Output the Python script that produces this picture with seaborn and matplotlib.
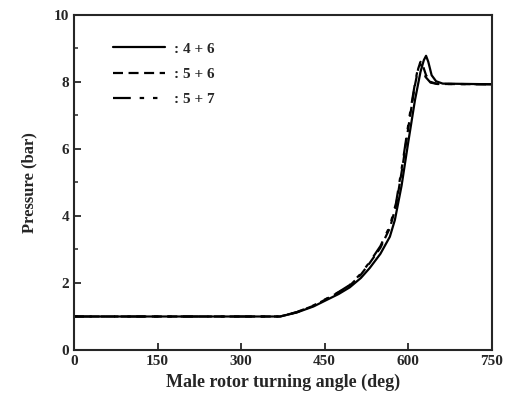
import numpy as np
import pandas as pd
import matplotlib
matplotlib.use('Agg')
import matplotlib.pyplot as plt
from matplotlib.ticker import MultipleLocator
import seaborn as sns

# Pressure curves (angle in deg, pressure in bar)
angle_46 = [0, 370, 400, 430, 453, 475, 495, 515, 531, 550, 567, 576, 588,
            600, 612, 622, 628, 632, 636, 642, 650, 662, 750]
press_46 = [1.0, 1.0, 1.12, 1.3, 1.49, 1.67, 1.87, 2.15, 2.45, 2.87, 3.38, 3.88, 4.9,
            6.2, 7.45, 8.3, 8.65, 8.78, 8.6, 8.2, 8.02, 7.95, 7.93]

angle_56 = [0, 370, 400, 430, 453, 475, 495, 515, 531, 550, 567, 578, 590,
            603, 612, 618, 622, 626, 632, 640, 652, 750]
press_56 = [1.0, 1.0, 1.13, 1.32, 1.52, 1.72, 1.92, 2.25, 2.6, 3.05, 3.64, 4.3, 5.5,
            6.95, 7.9, 8.4, 8.6, 8.5, 8.2, 8.0, 7.94, 7.93]

angle_57 = [0, 370, 400, 430, 453, 475, 495, 515, 531, 550, 567, 578, 590,
            603, 612, 617, 621, 625, 631, 640, 652, 750]
press_57 = [1.0, 1.0, 1.13, 1.33, 1.53, 1.73, 1.94, 2.28, 2.63, 3.1, 3.7, 4.38, 5.6,
            7.05, 7.95, 8.38, 8.55, 8.45, 8.15, 7.98, 7.94, 7.93]

labels = [': 4 + 6', ': 5 + 6', ': 5 + 7']
x_ticks = [0, 150, 300, 450, 600, 750]
y_ticks = [0, 2, 4, 6, 8, 10]

sns.set_style('ticks')
plt.rcParams['font.family'] = ['Liberation Serif', 'DejaVu Serif']
plt.rcParams['font.weight'] = 'bold'

fig = plt.figure(figsize=(5.07, 4.03), dpi=100)
ax = fig.add_axes([0.146, 0.1315, 0.824, 0.8315])

series = [(angle_46, press_46), (angle_56, press_56), (angle_57, press_57)]
dash_patterns = [None, (4.5, 2.5), (8, 4, 2, 4, 2, 4)]
for (xs, ys), lab, dp in zip(series, labels, dash_patterns):
    df = pd.DataFrame({'angle': xs, 'pressure': ys})
    sns.lineplot(data=df, x='angle', y='pressure', ax=ax, color='black',
                 linewidth=1.6, label=lab)
    if dp is not None:
        ax.lines[-1].set_dashes(dp)

ax.set_xlim(0, 750)
ax.set_ylim(0, 10)
ax.set_xticks(x_ticks)
ax.set_yticks(y_ticks)
ax.yaxis.set_minor_locator(MultipleLocator(1))
ax.tick_params(which='major', direction='in', length=5, width=1.3, labelsize=11)
ax.tick_params(which='minor', direction='in', length=3, width=1.1)
for lbl in ax.get_xticklabels() + ax.get_yticklabels():
    lbl.set_fontweight('bold')
for sp in ax.spines.values():
    sp.set_visible(True)
    sp.set_linewidth(1.5)

ax.set_xlabel('Male rotor turning angle (deg)', fontsize=13, fontweight='bold', labelpad=4)
ax.set_ylabel('Pressure (bar)', fontsize=12, fontweight='bold', labelpad=12)

leg = ax.legend(loc='upper left', bbox_to_anchor=(0.06, 0.96), frameon=False,
                handlelength=3.4, handletextpad=0.6, labelspacing=0.75,
                prop={'family': 'Liberation Serif', 'weight': 'bold', 'size': 11})

fig.savefig('out.png', dpi=100)
